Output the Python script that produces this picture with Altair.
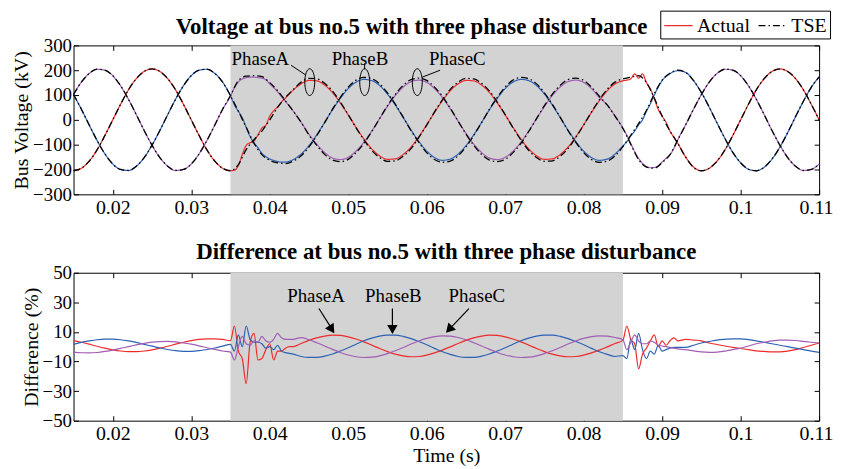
import altair as alt
import pandas as pd

FONT = "Liberation Serif"
RED = "#ee2b2b"
BLUE = "#2c62b5"
PURPLE = "#a15db4"
GREY = "#d3d3d3"

# ---------------- time axes (ms) ----------------
t_fine_ms = (list(range(15, 35)) + [35 + 0.5 * i for i in range(17)]
             + list(range(44, 85)) + [85 + 0.5 * i for i in range(15)]
             + list(range(93, 111)))
t_tse_ms = list(range(15, 111))

# ---------------- bus voltage, actual (kV) ----------------
va_actual = [-205, -195, -166, -121, -63, 0, 63, 121, 166, 195, 205, 195, 166, 121, 63, 0, -63, -121, -166, -195,
             -205, -203, -185, -140, -103, -92, -85, -60, -33, -22, 15, 36, 52, 72, 88, 104, 120,
             145, 159, 157, 140, 110, 68, 20, -30, -77, -117, -145, -159, -157, -140, -110, -68, -20, 30, 77, 117,
             145, 159, 157, 140, 110, 68, 20, -30, -77, -117, -145, -159, -157, -140, -110, -68, -20, 30, 77, 117, 145,
             157, 160, 165, 185, 168, 185, 150, 125, 85, 42, 15, -10, -45, -70, -95,
             -150, -190, -205, -195, -166, -121, -63, 0, 63, 121, 166, 195, 205, 195, 166, 121, 63, 0]
vb_actual = [102, 43, -21, -83, -137, -178, -200, -204, -187, -152, -102, -43, 21, 83, 137, 178, 200, 204, 187, 152,
             97, 60, 35, 8, -30, -67, -92, -112, -135, -148, -158, -163, -168, -170, -170, -167, -160,
             -138, -104, -60, -10, 41, 87, 126, 152, 163, 158, 138, 104, 60, 10, -41, -87, -126, -152, -163, -158,
             -138, -104, -60, -10, 41, 87, 126, 152, 163, 158, 138, 104, 60, 10, -41, -87, -126, -152, -163, -158, -138,
             -105, -88, -65, -45, -20, 0, 35, 65, 100, 132, 158, 175, 186, 195, 198,
             191, 158, 110, 51, -13, -75, -131, -173, -199, -205, -191, -158, -110, -51, 13, 75, 131, 173]
vc_actual = [102, 152, 187, 204, 200, 178, 137, 83, 21, -43, -102, -152, -187, -204, -200, -178, -137, -83, -21, 43,
             95, 130, 152, 165, 170, 172, 172, 170, 168, 162, 145, 130, 113, 93, 75, 55, 35,
             -10, -58, -98, -132, -154, -160, -151, -126, -90, -45, 5, 54, 98, 132, 154, 160, 151, 126, 90, 45, -5,
             -54, -98, -132, -154, -160, -151, -126, -90, -45, 5, 54, 98, 132, 154, 160, 151, 126, 90, 60, 15,
             -33, -62, -95, -128, -155, -175, -188, -193, -192, -185, -170, -155, -140, -115, -80,
             -20, 43, 102, 152, 187, 204, 200, 178, 137, 83, 21, -43, -102, -152, -187, -204, -200, -178]

# ---------------- bus voltage, TSE (kV) ----------------
va_tse = [-205, -195, -166, -121, -63, 0, 63, 121, 166, 195, 205, 195, 166, 121, 63, 0, -63, -121, -166, -195,
          -205, -180, -120, -80, -45, 0, 50, 90, 122,
          152, 167, 165, 147, 116, 71, 21, -32, -81, -123, -152, -167, -165, -147, -116, -71, -21, 32, 81, 123, 152,
          167, 165, 147, 116, 71, 21, -32, -81, -123, -152, -167, -165, -147, -116, -71, -21, 32, 81, 123, 152,
          165, 172, 178, 150, 88, 15, -45, -95,
          -150, -192, -205, -195, -166, -121, -63, 0, 63, 121, 166, 195, 205, 195, 166, 121, 63, 0]
vb_tse = [102, 43, -21, -83, -137, -178, -200, -204, -187, -152, -102, -43, 21, 83, 137, 178, 200, 204, 187, 152,
          97, 35, -30, -95, -140, -163, -173, -176, -166,
          -145, -109, -63, -11, 43, 91, 132, 160, 171, 166, 145, 109, 63, 11, -43, -91, -132, -160, -171, -166, -145,
          -109, -63, -11, 43, 91, 132, 160, 171, 166, 145, 109, 63, 11, -43, -91, -132, -160, -171, -166, -145,
          -108, -62, -15, 38, 105, 160, 188, 200,
          191, 158, 110, 51, -13, -75, -131, -173, -199, -205, -191, -158, -110, -51, 13, 75, 131, 173]
vc_tse = [102, 152, 187, 204, 200, 178, 137, 83, 21, -43, -102, -152, -187, -204, -200, -178, -137, -83, -21, 43,
          98, 158, 176, 178, 174, 150, 118, 77, 35,
          -10, -61, -103, -139, -162, -168, -159, -132, -95, -47, 5, 57, 103, 139, 162, 168, 159, 132, 95, 47, -5,
          -57, -103, -139, -162, -168, -159, -132, -95, -47, 5, 57, 103, 139, 162, 168, 159, 132, 95, 60, 15,
          -35, -98, -160, -190, -195, -172, -140, -80,
          -20, 43, 102, 152, 187, 204, 200, 178, 137, 83, 21, -43, -102, -152, -187, -204, -200, -178]

# ---------------- difference (%) ----------------
da = [4.1, 3.0, 1.7, 0.3, -1.0, -2.1, -2.9, -3.3, -3.3, -2.9, -2.1, -1.0, 0.3, 1.7, 3.0, 4.1, 4.9, 5.3, 5.3, 4.9,
      4.1, 14, -3, -8, -25, 3, 9, -9, -8, -2, 2, -9, -3, -3, -1, 0, 0,
      2.2, 4.3, 6.0, 7.2, 7.8, 7.6, 6.7, 5.2, 3.3, 1.1, -1.2, -3.3, -5.0, -6.2, -6.8, -6.6, -5.7, -4.2, -2.3, -0.1, 2.2,
      4.3, 6.0, 7.2, 7.8, 7.6, 6.7, 5.2, 3.3, 1.1, -1.2, -3.3, -5.0, -6.2, -6.8, -6.6, -5.7, -4.2, -2.3, -0.1, 2.2,
      4.3, 14, 5, 2, -15, -5, -1, 4, 8, 0, 4, 1, 4, 6, 4,
      5, 4.5, 4, 2.5, 1.5, 0.5, -0.5, -1.2, -2, -2.8, -3.2, -3.5, -3.5, -3, -2, -0.5, 1, 2.5]
db = [1.6, 2.9, 3.9, 4.7, 5.1, 5.1, 4.7, 3.9, 2.9, 1.6, 0.4, -0.9, -1.9, -2.7, -3.1, -3.1, -2.7, -1.9, -0.9, 0.4,
      1.6, -3, 8, 0, 14, 5, 3, 3, 2, -1, 0, -2, 1, -3, -4, -4.5, -5,
      -6.6, -7.2, -7.2, -6.4, -4.9, -2.9, -0.7, 1.7, 4.0, 5.8, 7.2, 7.8, 7.8, 7.0, 5.5, 3.5, 1.3, -1.1, -3.4, -5.2, -6.6,
      -7.2, -7.2, -6.4, -4.9, -2.9, -0.7, 1.7, 4.0, 5.8, 7.2, 7.8, 7.8, 7.0, 5.5, 3.5, 1.3, -1.1, -3.4, -5.2, -6.6,
      -6.0, -8, 5, -2, 9, -2, -8, -3, -5, 1, -3, -2, -1, -0.5, -0.5,
      -0.5, 1, 2.5, 3.5, 4.5, 5, 5.3, 5.3, 4.8, 4, 3, 2, 1, 0, -1, -2, -3, -3.8]
dc = [-3.7, -4.1, -4.2, -3.9, -3.2, -2.3, -1.1, 0.1, 1.2, 2.3, 3.1, 3.5, 3.6, 3.3, 2.6, 1.7, 0.6, -0.7, -1.8, -2.9,
      -3.7, -9, 0, 7, 2, 1, 4, 3, 7, 4, 3, 5, 9, 6, 5, 5, 5,
      6.2, 4.7, 2.7, 0.5, -1.8, -3.9, -5.6, -6.8, -7.3, -7.1, -6.2, -4.7, -2.7, -0.5, 1.8, 3.9, 5.6, 6.8, 7.3, 7.1, 6.2,
      4.7, 2.7, 0.5, -1.8, -3.9, -5.6, -6.8, -7.3, -7.1, -6.2, -4.7, -2.7, -0.5, 1.8, 3.9, 5.6, 6.8, 7.3, 7.1, 6.2,
      4.7, -2, 3, 8, 4, 2, 2, 4, 3, 1, 0.5, 0, -0.5, -1, -1.5,
      -2, -2.8, -3.5, -3.8, -3.6, -3, -2, -1, 0.5, 2, 3, 4, 4.5, 4.5, 4.2, 3.6, 3, 2.5]

x_ticks = [0.02, 0.03, 0.04, 0.05, 0.06, 0.07, 0.08, 0.09, 0.10, 0.11]
y_ticks_top = [-300, -200, -100, 0, 100, 200, 300]
y_ticks_bot = [-50, -30, -10, 10, 30, 50]
disturbance = [0.035, 0.085]

# annotations
top_labels = ["PhaseA", "PhaseB", "PhaseC"]
top_label_t = [0.0388, 0.0515, 0.0639]
top_label_v = [246, 246, 246]
ell_t = [0.0451, 0.0521, 0.0588]
ell_v = [152, 152, 152]
top_line_t1 = [0.04272, 0.05209, 0.06171]
top_line_t2 = [0.04462, 0.05209, 0.05943]
top_line_v1 = [220, 228, 200]
top_line_v2 = [180, 204, 172]

bot_label_t = [0.04589, 0.05576, 0.06639]
bot_label_v = [34, 34, 34]
arr_t1 = [0.04627, 0.05563, 0.06538]
arr_t2 = [0.04779, 0.05563, 0.06323]
arr_v1 = [25.8, 25.8, 25.8]
arr_v2 = [13.1, 13.8, 13.8]
head_t = [0.04791, 0.05563, 0.06285]
head_v = [11.7, 11.7, 11.7]
head_ang = [326, 0, 44]

# ---------------- build tables ----------------
def long_table(t_ms, series):
    rows = []
    for phase, (vals, key, hexc) in series.items():
        assert len(vals) == len(t_ms), (phase, len(vals), len(t_ms))
        for t, v in zip(t_ms, vals):
            rows.append({"t": t / 1000.0, "v": v, "phase": phase, "key": key, "hex": hexc})
    return pd.DataFrame(rows)

actual_df = long_table(t_fine_ms, {"A": (va_actual, "A", RED), "B": (vb_actual, "B", BLUE),
                                   "C": (vc_actual, "C", PURPLE)})
tse_df = long_table(t_tse_ms, {"A": (va_tse, "TSE", "#000"), "B": (vb_tse, "TSE", "#000"),
                               "C": (vc_tse, "TSE", "#000")})
diff_df = long_table(t_fine_ms, {"A": (da, "A", RED), "B": (db, "B", BLUE), "C": (dc, "C", PURPLE)})

shade_top = pd.DataFrame({"t0": [disturbance[0]], "t1": [disturbance[1]], "v0": [-300], "v1": [300]})
shade_bot = pd.DataFrame({"t0": [disturbance[0]], "t1": [disturbance[1]], "v0": [-50], "v1": [50]})

top_text_df = pd.DataFrame({"t": top_label_t, "v": top_label_v, "label": top_labels})
ell_df = pd.DataFrame({"t": ell_t, "v": ell_v})
top_line_df = pd.DataFrame({"t1": top_line_t1, "t2": top_line_t2, "v1": top_line_v1, "v2": top_line_v2})
bot_text_df = pd.DataFrame({"t": bot_label_t, "v": bot_label_v, "label": top_labels})
arr_df = pd.DataFrame({"t1": arr_t1, "t2": arr_t2, "v1": arr_v1, "v2": arr_v2})
head_df = pd.DataFrame({"t": head_t, "v": head_v, "ang": head_ang})

# ---------------- scales / axes ----------------
W = 751
xs = alt.Scale(domain=[0.015, 0.11], nice=False, zero=False)
ys_top = alt.Scale(domain=[-300, 300], nice=False, zero=False)
ys_bot = alt.Scale(domain=[-50, 50], nice=False, zero=False)

def ax_bottom():
    return alt.Axis(orient="bottom", values=x_ticks, format=".2~f", offset=-5, tickSize=5,
                    domain=False, grid=False, labelPadding=3, tickColor="black", titlePadding=2,
                    labelFlush=True, labelFlushOffset=14)

def ax_left(vals):
    return alt.Axis(orient="left", values=vals, format="d", offset=-5, tickSize=5,
                    domain=False, grid=False, labelPadding=2, titlePadding=1, labelFontSize=19)

def ax_top():
    return alt.Axis(orient="top", values=x_ticks, offset=-5, tickSize=5, labels=False,
                    domain=False, grid=False)

def ax_right(vals):
    return alt.Axis(orient="right", values=vals, offset=-5, tickSize=5, labels=False,
                    domain=False, grid=False)

XN = alt.X("t:Q", scale=xs, axis=None)

keys = ["Actual", "TSE", "A", "B", "C"]
LEGEND_LINE = "M-1,0L1.6,0"
legend = alt.Legend(title=None, values=["Actual", "TSE"], orient="none", legendX=591, legendY=-35,
                    direction="horizontal", symbolType=LEGEND_LINE, symbolSize=484, symbolStrokeWidth=1.3,
                    symbolFillColor="transparent",
                    labelFont=FONT, labelFontSize=20, labelColor="black", strokeColor="black",
                    fillColor="white", padding=3, labelOffset=10, columnPadding=5)
color_enc = alt.Color("key:N", scale=alt.Scale(domain=keys, range=[RED, "black", RED, BLUE, PURPLE]),
                      legend=legend)
dash_enc = alt.StrokeDash("key:N", scale=alt.Scale(domain=keys, range=[[1, 0], [7, 3, 1.5, 3], [1, 0], [1, 0], [1, 0]]),
                          legend=legend)

# ---------------- top panel ----------------
YN_top = alt.Y("v:Q", scale=ys_top, axis=None)
shade1 = alt.Chart(shade_top).mark_rect(color=GREY).encode(
    x=alt.X("t0:Q", scale=xs, axis=ax_bottom(), title=None), x2="t1:Q",
    y=alt.Y("v0:Q", scale=ys_top, axis=ax_left(y_ticks_top), title="Bus Voltage (kV)"), y2="v1:Q")
mirror1 = alt.Chart(shade_top).mark_rect(opacity=0).encode(
    x=alt.X("t0:Q", scale=xs, axis=ax_top(), title=None), x2="t1:Q",
    y=alt.Y("v0:Q", scale=ys_top, axis=ax_right(y_ticks_top), title=None), y2="v1:Q")
act_lines = alt.Chart(actual_df).mark_line(strokeWidth=1.2, interpolate="monotone").encode(
    x=XN, y=YN_top, color=color_enc, strokeDash=dash_enc, detail="phase:N")
tse_lines = alt.Chart(tse_df).mark_line(strokeWidth=1.3, interpolate="monotone").encode(
    x=XN, y=YN_top, color=color_enc, strokeDash=dash_enc, detail="phase:N")
top_text = alt.Chart(top_text_df).mark_text(font=FONT, fontSize=19, baseline="middle", color="black").encode(
    x=XN, y=YN_top, text="label:N")
ELLIPSE = "M0,-1A0.37,1,0,1,1,0,1A0.37,1,0,1,1,0,-1Z"
ellipses = alt.Chart(ell_df).mark_point(shape=ELLIPSE, size=729, filled=False, color="black",
                                        strokeWidth=1, opacity=1).encode(x=XN, y=YN_top)
top_rules = alt.Chart(top_line_df).mark_rule(color="black", strokeWidth=1).encode(
    x=alt.X("t1:Q", scale=xs, axis=None), x2="t2:Q",
    y=alt.Y("v1:Q", scale=ys_top, axis=None), y2="v2:Q")

top = alt.layer(shade1, mirror1, act_lines, tse_lines, top_rules, ellipses, top_text).resolve_axis(
    x="independent", y="independent").properties(
    width=W, height=150,
    title=alt.TitleParams("Voltage at bus no.5 with three phase disturbance", anchor="middle",
                          frame="group", dx=-35, offset=-3))

# ---------------- bottom panel ----------------
YN_bot = alt.Y("v:Q", scale=ys_bot, axis=None)
shade2 = alt.Chart(shade_bot).mark_rect(color=GREY).encode(
    x=alt.X("t0:Q", scale=xs, axis=ax_bottom(), title="Time (s)"), x2="t1:Q",
    y=alt.Y("v0:Q", scale=ys_bot, axis=ax_left(y_ticks_bot), title="Difference (%)"), y2="v1:Q")
mirror2 = alt.Chart(shade_bot).mark_rect(opacity=0).encode(
    x=alt.X("t0:Q", scale=xs, axis=ax_top(), title=None), x2="t1:Q",
    y=alt.Y("v0:Q", scale=ys_bot, axis=ax_right(y_ticks_bot), title=None), y2="v1:Q")
diff_lines = alt.Chart(diff_df).mark_line(strokeWidth=1.2, interpolate="monotone").encode(
    x=XN, y=YN_bot, color=alt.Color("hex:N", scale=None), detail="phase:N")
bot_text = alt.Chart(bot_text_df).mark_text(font=FONT, fontSize=19, baseline="middle", color="black").encode(
    x=XN, y=YN_bot, text="label:N")
arrows = alt.Chart(arr_df).mark_rule(color="black", strokeWidth=1.2).encode(
    x=alt.X("t1:Q", scale=xs, axis=None), x2="t2:Q",
    y=alt.Y("v1:Q", scale=ys_bot, axis=None), y2="v2:Q")
heads = alt.Chart(head_df).mark_point(shape="triangle-down", filled=True, size=110, color="black",
                                      opacity=1).encode(
    x=XN, y=YN_bot, angle=alt.Angle("ang:Q", scale=None))

bottom = alt.layer(shade2, mirror2, diff_lines, arrows, heads, bot_text).resolve_axis(
    x="independent", y="independent").properties(
    width=W, height=149,
    title=alt.TitleParams("Difference at bus no.5 with three phase disturbance", anchor="middle",
                          frame="group", offset=0))

chart = alt.vconcat(top, bottom, spacing=22).properties(
    padding={"left": 3, "top": 0, "right": 0, "bottom": 0}).configure_view(
    stroke="black", strokeWidth=1).configure_axis(
    labelFont=FONT, titleFont=FONT, labelFontSize=20, titleFontSize=20, titleFontWeight="normal",
    labelColor="black", titleColor="black", tickColor="black", tickWidth=1).configure_title(
    font=FONT, fontSize=23, fontWeight="bold", color="black")

chart.save("out.html", embed_options={"renderer": "svg", "actions": False})
